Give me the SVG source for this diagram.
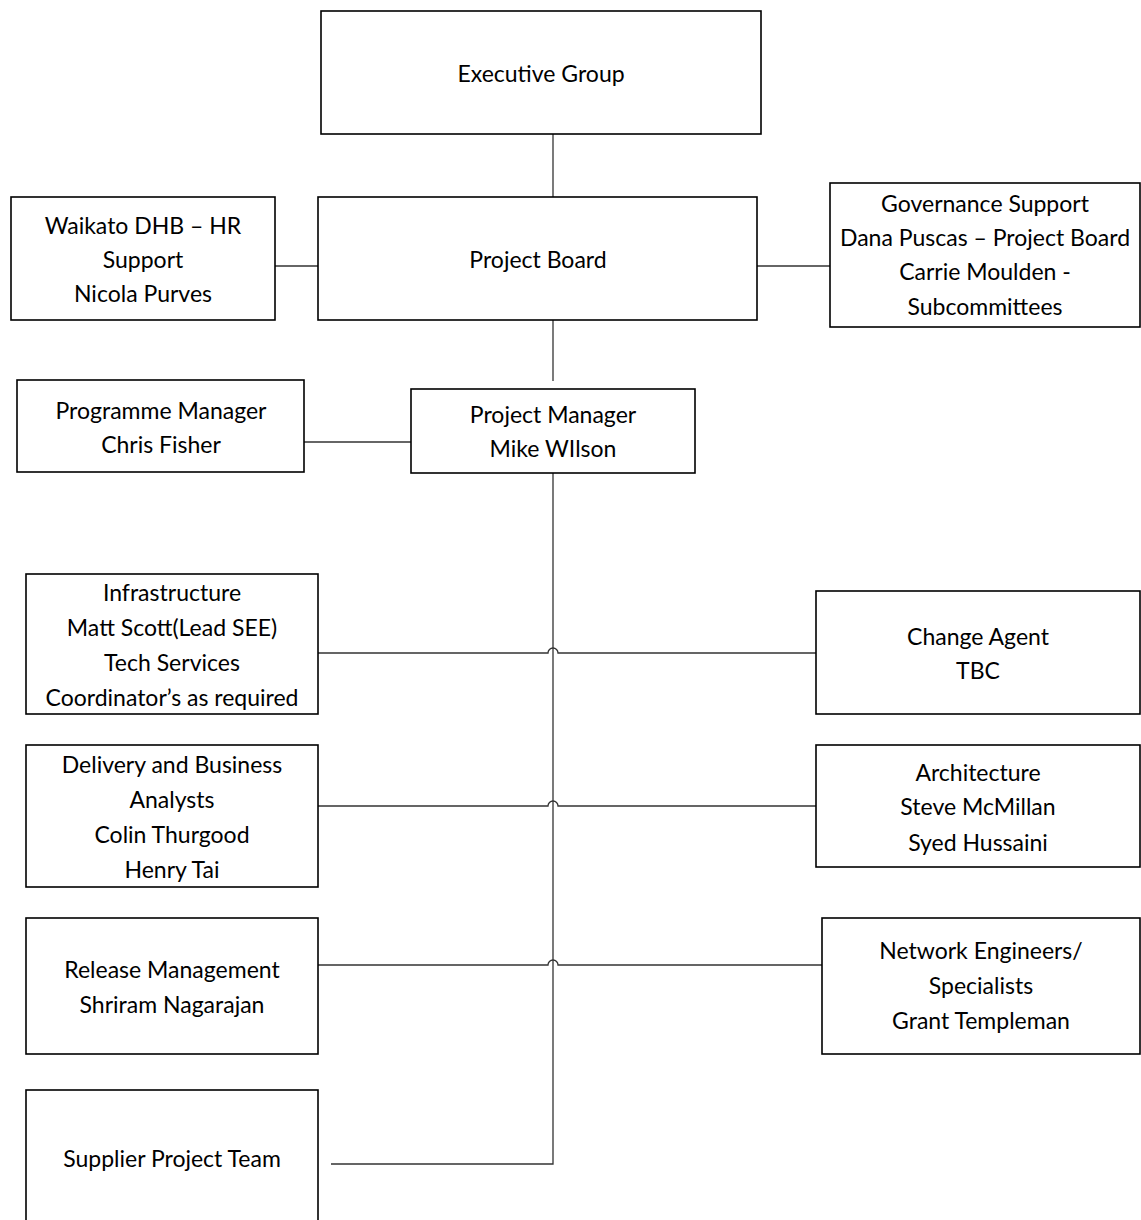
<svg xmlns="http://www.w3.org/2000/svg" width="1141" height="1220" viewBox="0 0 1141 1220">
<style>
.box{fill:#fff;stroke:#000;stroke-width:1.6}
.t{font-family:Lato,"Open Sans","Liberation Sans",sans-serif;font-size:23px;fill:#000;text-anchor:middle;dominant-baseline:central}
.c{fill:none;stroke:#333;stroke-width:1.3}
</style>
<rect width="1141" height="1220" fill="#fff"/>
<g id="connectors">
<path class="c" d="M553 134V197"/>
<path class="c" d="M275 266H318"/>
<path class="c" d="M757 266H830"/>
<path class="c" d="M553 320V381"/>
<path class="c" d="M304 442H411"/>
<path class="c" d="M553 473V1164H331"/>
<path class="c" d="M318 653H548A5 5 0 0 1 558 653H816"/>
<path class="c" d="M318 806H548A5 5 0 0 1 558 806H816"/>
<path class="c" d="M318 965H548A5 5 0 0 1 558 965H822"/>
</g>
<g id="executive"><rect class="box" x="321" y="11" width="440" height="123"/><text class="t" x="541" y="73">Executive Group</text></g>
<g id="board"><rect class="box" x="318" y="197" width="439" height="123"/><text class="t" x="538" y="259">Project Board</text></g>
<g id="hr"><rect class="box" x="11" y="197" width="264" height="123"/><text class="t" x="143" y="225">Waikato DHB – HR</text><text class="t" x="143" y="259">Support</text><text class="t" x="143" y="293">Nicola Purves</text></g>
<g id="governance"><rect class="box" x="830" y="183" width="310" height="144"/><text class="t" x="985" y="203">Governance Support</text><text class="t" x="985" y="237">Dana Puscas – Project Board</text><text class="t" x="985" y="271">Carrie Moulden -</text><text class="t" x="985" y="306">Subcommittees</text></g>
<g id="programme"><rect class="box" x="17" y="380" width="287" height="92"/><text class="t" x="161" y="410">Programme Manager</text><text class="t" x="161" y="444">Chris Fisher</text></g>
<g id="pm"><rect class="box" x="411" y="389" width="284" height="84"/><text class="t" x="553" y="414">Project Manager</text><text class="t" x="553" y="448">Mike WIlson</text></g>
<g id="infra"><rect class="box" x="26" y="574" width="292" height="140"/><text class="t" x="172" y="592">Infrastructure</text><text class="t" x="172" y="627">Matt Scott(Lead SEE)</text><text class="t" x="172" y="662">Tech Services</text><text class="t" x="172" y="697">Coordinator’s as required</text></g>
<g id="change"><rect class="box" x="816" y="591" width="324" height="123"/><text class="t" x="978" y="636">Change Agent</text><text class="t" x="978" y="670">TBC</text></g>
<g id="delivery"><rect class="box" x="26" y="745" width="292" height="142"/><text class="t" x="172" y="764">Delivery and Business</text><text class="t" x="172" y="799">Analysts</text><text class="t" x="172" y="834">Colin Thurgood</text><text class="t" x="172" y="869">Henry Tai</text></g>
<g id="architecture"><rect class="box" x="816" y="745" width="324" height="122"/><text class="t" x="978" y="772">Architecture</text><text class="t" x="978" y="806">Steve McMillan</text><text class="t" x="978" y="842">Syed Hussaini</text></g>
<g id="release"><rect class="box" x="26" y="918" width="292" height="136"/><text class="t" x="172" y="969">Release Management</text><text class="t" x="172" y="1004">Shriram Nagarajan</text></g>
<g id="network"><rect class="box" x="822" y="918" width="318" height="136"/><text class="t" x="981" y="950">Network Engineers/</text><text class="t" x="981" y="985">Specialists</text><text class="t" x="981" y="1020">Grant Templeman</text></g>
<g id="supplier"><rect class="box" x="26" y="1090" width="292" height="140"/><text class="t" x="172" y="1158">Supplier Project Team</text></g>
</svg>
